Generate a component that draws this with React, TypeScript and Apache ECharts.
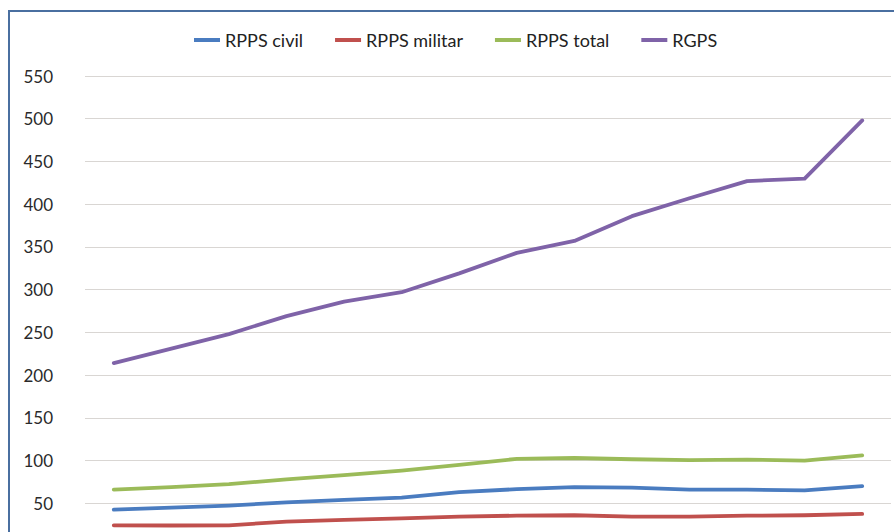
import React, { useEffect, useRef } from "react";
import * as echarts from "echarts";

const categories = ["1", "2", "3", "4", "5", "6", "7", "8", "9", "10", "11", "12", "13", "14"];
const rppsCivil = [42.6, 44.9, 47.3, 51, 54, 56.6, 63, 66.5, 69, 68.4, 66, 66, 65, 70];
const rppsMilitar = [24.2, 24, 24.2, 28.5, 30.5, 32.4, 34.4, 35.5, 36, 34.4, 34.4, 35.5, 36, 37.5];
const rppsTotal = [66, 68.8, 72.3, 78, 83, 88.3, 95, 102, 103, 101.5, 100.5, 101, 100, 106];
const rgps = [214, 231, 248, 269, 286, 297, 319, 343, 357, 386, 407, 427, 430, 498];

const seriesNames = ["RPPS civil", "RPPS militar", "RPPS total", "RGPS"];
const seriesColors = ["#4a7cc0", "#c0504d", "#9bbb59", "#7f63a8"];
const seriesData = [rppsCivil, rppsMilitar, rppsTotal, rgps];

export default function App() {
  const ref = useRef<HTMLDivElement>(null);
  useEffect(() => {
    if (!ref.current) return;
    const chart = echarts.init(ref.current, undefined, { renderer: "svg" });
    chart.setOption({
      animation: false,
      backgroundColor: "#ffffff",
      textStyle: { fontFamily: "Lato, 'Open Sans', sans-serif" },
      graphic: [
        {
          type: "rect",
          shape: { x: 9, y: 11, width: 900, height: 700 },
          style: { fill: "none", stroke: "#4a6fa0", lineWidth: 2 },
          silent: true,
        },
      ],
      legend: {
        top: 26,
        left: 189,
        itemWidth: 26,
        itemHeight: 4,
        itemGap: 32,
        icon: "rect",
        textStyle: { fontSize: 18, color: "#222222", fontFamily: "Lato, sans-serif" },
        data: seriesNames,
      },
      grid: { left: 85, right: 3, top: 76, bottom: 54, containLabel: false },
      xAxis: {
        type: "category",
        data: categories,
        boundaryGap: true,
        axisLine: { show: true, lineStyle: { color: "#d0d0d0" } },
        axisTick: { show: false },
        axisLabel: { show: false },
      },
      yAxis: {
        type: "value",
        min: 0,
        max: 550,
        interval: 50,
        axisLine: { show: false },
        axisTick: { show: false },
        axisLabel: {
          margin: 32,
          fontSize: 17,
          color: "#2a2a2a",
          fontFamily: "Lato, sans-serif",
          formatter: (v: number) => (v === 0 ? "" : String(v)),
        },
        splitLine: { lineStyle: { color: "#d9d6d3", width: 1.2 } },
      },
      series: seriesNames.map((name, i) => ({
        name,
        type: "line",
        data: seriesData[i],
        symbol: "none",
        lineStyle: { width: 3.8, color: seriesColors[i], cap: "round", join: "round" },
        itemStyle: { color: seriesColors[i] },
      })),
    });
    return () => chart.dispose();
  }, []);
  return (
    <div
      style={{
        position: "fixed",
        left: 0,
        top: 0,
        width: 894,
        height: 532,
        overflow: "hidden",
        background: "#ffffff",
      }}
    >
      <div ref={ref} style={{ width: 894, height: 600 }} />
    </div>
  );
}
